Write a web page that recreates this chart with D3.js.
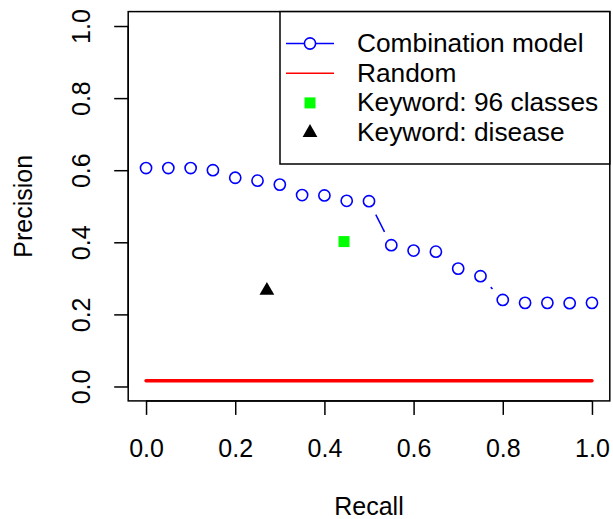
<!DOCTYPE html>
<html>
<head>
<meta charset="utf-8">
<script src="https://cdn.jsdelivr.net/npm/d3@7"></script>
<style>
  html, body { margin: 0; padding: 0; background: #fff; }
  svg { display: block; }
  text { font-family: "Liberation Sans", Arial, Helvetica, sans-serif; fill: #000; }
</style>
</head>
<body>
<svg id="chart" width="613" height="519"></svg>
<script>
// Precision–recall values
const recall = [0, 0.05, 0.1, 0.15, 0.2, 0.25, 0.3, 0.35, 0.4, 0.45, 0.5,
                0.55, 0.6, 0.65, 0.7, 0.75, 0.8, 0.85, 0.9, 0.95, 1.0];
const precisionCombo = [0.606, 0.606, 0.606, 0.600, 0.579, 0.571, 0.560, 0.531, 0.530, 0.515, 0.514,
                        0.392, 0.377, 0.374, 0.327, 0.306, 0.240, 0.232, 0.232, 0.231, 0.232];
const randomLine = [[0, 0.016], [1, 0.016]];
const keyword96 = [0.444, 0.402];
const keywordDisease = [0.271, 0.266];
const xTicks = [0, 0.2, 0.4, 0.6, 0.8, 1.0];
const yTicks = [0, 0.2, 0.4, 0.6, 0.8, 1.0];
const legendLabels = ["Combination model", "Random", "Keyword: 96 classes", "Keyword: disease"];

const svg = d3.select("#chart");
const FS = 25;
const LFS = 26.3;

// plot region (axis range padded 4% like R)
const x = d3.scaleLinear().domain([-0.04, 1.04]).range([128.2, 609.8]);
const y = d3.scaleLinear().domain([-0.04, 1.04]).range([400.9, 11.6]);

// frame
svg.append("rect")
  .attr("x", x(-0.04)).attr("y", y(1.04))
  .attr("width", x(1.04) - x(-0.04)).attr("height", y(-0.04) - y(1.04))
  .attr("fill", "none").attr("stroke", "#000").attr("stroke-width", 1.5);

// x axis
const xAxis = d3.axisBottom(x).tickValues(xTicks).tickFormat(d3.format(".1f"))
  .tickSize(14).tickSizeOuter(0);
const gx = svg.append("g").attr("transform", `translate(0,${y(-0.04)})`).call(xAxis);
gx.select(".domain").attr("d", `M${x(0)},0H${x(1)}`).attr("stroke-width", 1.5);
gx.selectAll(".tick line").attr("stroke-width", 1.5);
gx.selectAll(".tick text").attr("font-size", FS).attr("dy", null).attr("y", 56)
  .style("font-family", "Liberation Sans, Arial, sans-serif");

// y axis
const yAxis = d3.axisLeft(y).tickValues(yTicks).tickFormat(d3.format(".1f"))
  .tickSize(14).tickSizeOuter(0);
const gy = svg.append("g").attr("transform", `translate(${x(-0.04)},0)`).call(yAxis);
gy.select(".domain").attr("d", `M0,${y(0)}V${y(1)}`).attr("stroke-width", 1.5);
gy.selectAll(".tick line").attr("stroke-width", 1.5);
gy.selectAll(".tick text").attr("font-size", FS)
  .attr("x", null).attr("dy", null)
  .attr("text-anchor", "middle")
  .attr("transform", "translate(-38,0) rotate(-90)")
  .style("font-family", "Liberation Sans, Arial, sans-serif");
gy.selectAll(".domain, .tick line").attr("stroke", "#000");
gx.selectAll(".domain, .tick line").attr("stroke", "#000");

// axis titles
svg.append("text").attr("x", (x(-0.04) + x(1.04)) / 2).attr("y", 515)
  .attr("text-anchor", "middle").attr("font-size", FS).text("Recall");
svg.append("text").attr("transform", `translate(32,${(y(-0.04) + y(1.04)) / 2}) rotate(-90)`)
  .attr("text-anchor", "middle").attr("font-size", FS).text("Precision");

// random baseline
svg.append("path")
  .attr("d", d3.line().x(d => x(d[0])).y(d => y(d[1]))(randomLine))
  .attr("stroke", "#ff0000").attr("stroke-width", 3.5).attr("stroke-linecap", "round")
  .attr("fill", "none");

// combination model: points joined by segments with a gap around each point
const pts = recall.map((r, i) => [x(r), y(precisionCombo[i])]);
const GAP = 15;
const segs = [];
for (let i = 0; i < pts.length - 1; i++) {
  const [x0, y0] = pts[i], [x1, y1] = pts[i + 1];
  const len = Math.hypot(x1 - x0, y1 - y0);
  if (len > 2 * GAP) {
    const ux = (x1 - x0) / len, uy = (y1 - y0) / len;
    segs.push([[x0 + ux * GAP, y0 + uy * GAP], [x1 - ux * GAP, y1 - uy * GAP]]);
  }
}
svg.append("g").selectAll("line").data(segs).join("line")
  .attr("x1", d => d[0][0]).attr("y1", d => d[0][1])
  .attr("x2", d => d[1][0]).attr("y2", d => d[1][1])
  .attr("stroke", "#0000ff").attr("stroke-width", 1.5);
svg.append("g").selectAll("circle").data(pts).join("circle")
  .attr("cx", d => d[0]).attr("cy", d => d[1]).attr("r", 5.6)
  .attr("fill", "none").attr("stroke", "#0000ff").attr("stroke-width", 1.6);

// keyword points
svg.append("path")
  .attr("d", d3.symbol(d3.symbolSquare, 121)())
  .attr("transform", `translate(${x(keyword96[0])},${y(keyword96[1])})`)
  .attr("fill", "#00ff00");
svg.append("path")
  .attr("d", d3.symbol(d3.symbolTriangle, 95)())
  .attr("transform", `translate(${x(keywordDisease[0])},${y(keywordDisease[1])})`)
  .attr("fill", "#000");

// legend
const lg = svg.append("g");
lg.append("rect").attr("x", 280).attr("y", y(1.04)).attr("width", 609.8 - 280)
  .attr("height", 164 - y(1.04))
  .attr("fill", "#fff").attr("stroke", "#000").attr("stroke-width", 1.5);
const rowY = i => 43.5 + i * 29.7;
legendLabels.forEach((lab, i) => {
  lg.append("text").attr("x", 357).attr("y", rowY(i) + 8.5)
    .attr("font-size", LFS).text(lab);
});
lg.append("line").attr("x1", 286).attr("x2", 334).attr("y1", rowY(0)).attr("y2", rowY(0))
  .attr("stroke", "#0000ff").attr("stroke-width", 1.5);
lg.append("circle").attr("cx", 310).attr("cy", rowY(0)).attr("r", 5.6)
  .attr("fill", "#fff").attr("stroke", "#0000ff").attr("stroke-width", 1.6);
lg.append("line").attr("x1", 286).attr("x2", 334).attr("y1", rowY(1)).attr("y2", rowY(1))
  .attr("stroke", "#ff0000").attr("stroke-width", 1.5);
lg.append("path").attr("d", d3.symbol(d3.symbolSquare, 121)())
  .attr("transform", `translate(310,${rowY(2)})`).attr("fill", "#00ff00");
lg.append("path").attr("d", d3.symbol(d3.symbolTriangle, 95)())
  .attr("transform", `translate(310,${rowY(3)})`).attr("fill", "#000");
</script>
</body>
</html>
